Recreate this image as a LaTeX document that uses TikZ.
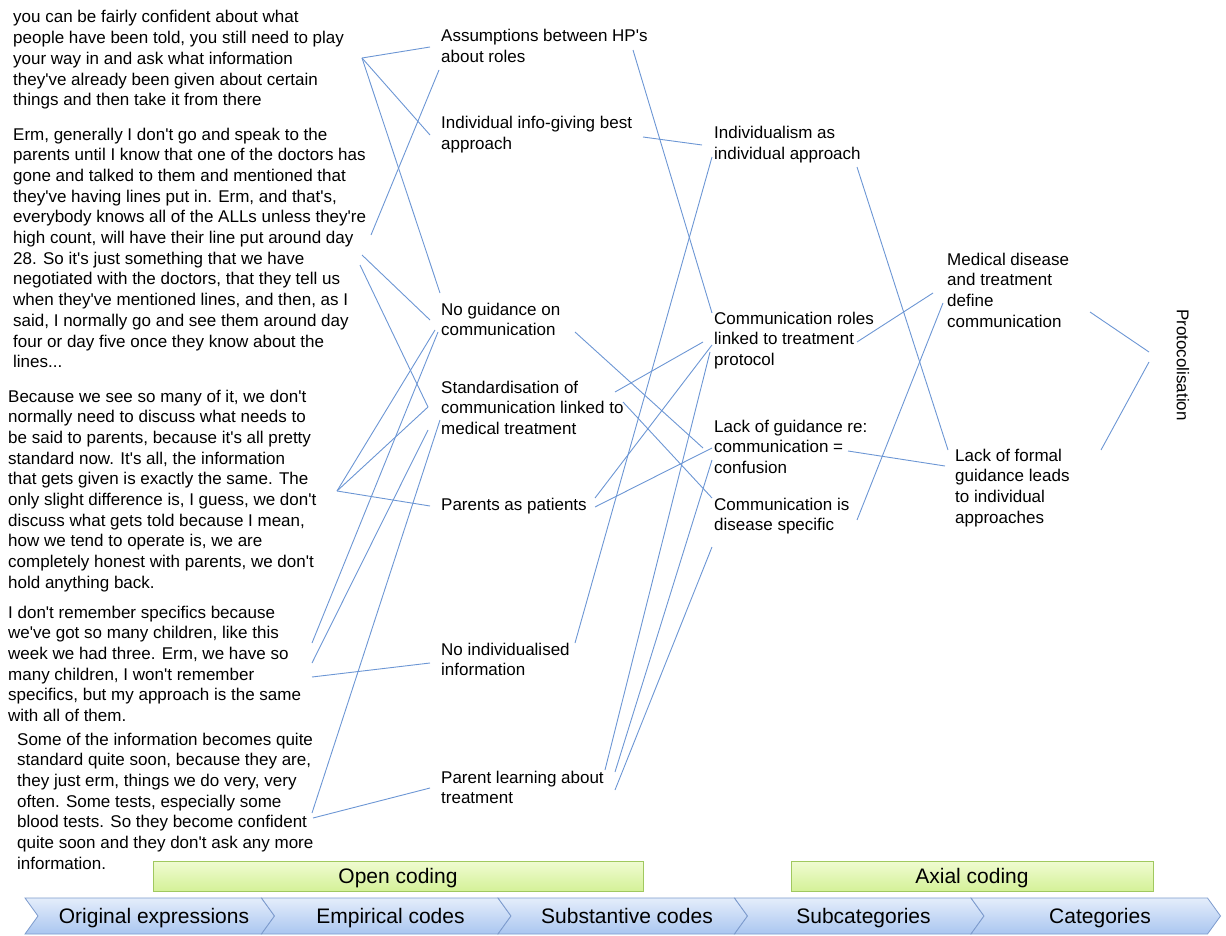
\documentclass[tikz,border=0pt]{standalone}
\usepackage{fontspec}
\setmainfont{Liberation Sans}[Ligatures=TeXOff]
\usepackage{tikz}
\usetikzlibrary{positioning,calc}
\definecolor{linkblue}{RGB}{108,150,212}
\definecolor{stagetop}{RGB}{228,237,251}
\definecolor{stagebot}{RGB}{170,198,240}
\definecolor{stageedge}{RGB}{125,155,205}
\definecolor{phasetop}{RGB}{240,251,210}
\definecolor{phasebot}{RGB}{212,241,152}
\definecolor{phaseedge}{RGB}{160,200,95}

\begin{document}
\begin{tikzpicture}[x=1pt,y=-1pt,
    txt/.style={anchor=base west,align=left,inner sep=0pt,font=\fontsize{17}{20.7}\selectfont},
    link/.style={draw=linkblue,line width=0.9pt},
    stagebox/.style={draw=stageedge,top color=stagetop,bottom color=stagebot,line width=0.8pt},
    stagelab/.style={anchor=base,inner sep=0pt,font=\fontsize{21}{24}\selectfont},
    phase/.style={draw=phaseedge,top color=phasetop,bottom color=phasebot,line width=0.8pt,
        minimum height=30pt,inner sep=0pt,text height=15pt,text depth=0pt,font=\fontsize{21}{24}\selectfont}]
    \useasboundingbox (0,0) rectangle (1226,936);

    % original expressions (placed at the baseline of the last line)
    \node[txt] (q1) at (13,105.8) {you can be fairly confident about what\\people have been told, you still need to play\\your way in and ask what information\\they've already been given about certain\\things and then take it from there};
    \node[txt] (q2) at (13,367.7) {Erm, generally I don't go and speak to the\\parents until I know that one of the doctors has\\gone and talked to them and mentioned that\\they've having lines put in.  Erm, and that's,\\everybody knows all of the ALLs unless they're\\high count, will have their line put around day\\28. So it's just something that we have\\negotiated with the doctors, that they tell us\\when they've mentioned lines, and then, as I\\said, I normally go and see them around day\\four or day five once they know about the\\lines...};
    \node[txt] (q3) at (8,588.3) {Because we see so many of it, we don't\\normally need to discuss what needs to\\be said to parents, because it's all pretty\\standard now.  It's all, the information\\that gets given is exactly the same.  The\\only slight difference is, I guess, we don't\\discuss what gets told because I mean,\\how we tend to operate is, we are\\completely honest with parents, we don't\\hold anything back.};
    \node[txt] (q4) at (8,721.5) {I don't remember specifics because\\we've got so many children, like this\\week we had three. Erm, we have so\\many children, I won't remember\\specifics, but my approach is the same\\with all of them.};
    \node[txt] (q5) at (17,869.2) {Some of the information becomes quite\\standard quite soon, because they are,\\they just erm, things we do very, very\\often.  Some tests, especially some\\blood tests. So they become confident\\quite soon and they don't ask any more\\information.};

    % empirical codes
    \node[txt] (e1) at (441,62.7) {Assumptions between HP's\\about roles};
    \node[txt] (e2) at (441,149.7) {Individual info-giving best\\approach};
    \node[txt] (e3) at (441,335.7) {No guidance on\\communication};
    \node[txt] (e4) at (441,434.4) {Standardisation of\\communication linked to\\medical treatment};
    \node[txt] (e5) at (441,510) {Parents as patients};
    \node[txt] (e6) at (441,675.7) {No individualised\\information};
    \node[txt] (e7) at (441,803.7) {Parent learning about\\treatment};

    % substantive codes
    \node[txt] (s1) at (714,159.7) {Individualism as\\individual approach};
    \node[txt] (s2) at (714,365.4) {Communication roles\\linked to treatment\\protocol};
    \node[txt] (s3) at (714,473.4) {Lack of guidance re:\\communication =\\confusion};
    \node[txt] (s4) at (714,530.7) {Communication is\\disease specific};

    % subcategories and category
    \node[txt] (sub1) at (947,327.1) {Medical disease\\and treatment\\define\\communication};
    \node[txt] (sub2) at (955,523.1) {Lack of formal\\guidance leads\\to individual\\approaches};
    \node[rotate=-90,inner sep=0pt,font=\fontsize{17}{20.7}\selectfont] (cat) at (1183,365) {Protocolisation};

    % line ends
    \foreach \n/\p in {q1r/{362,58},q2a/{371,235},q2b/{362,255},q2c/{360,265},q3r/{337,491},
        q4a/{312,643},q4b/{312,663},q4c/{312,677},q5a/{312,813},q5b/{313,818},
        e1a/{430,47},e1b/{439,70},e2a/{430,135},e3a/{440,293},e3b/{430,320},e3c/{435,330},
        e3d/{438,332},e4a/{428,407},e4b/{440,420},e4c/{428,430},e5a/{430,506},e6a/{430,663},e7a/{430,788},
        e1r/{633,50},e2r/{643,137},e3r/{575,332},e4r/{615,392},e4s/{623,402},e5r/{595,498},
        e5s/{595,507},e6r/{575,643},e7r/{605,770},e7s/{615,772},e7t/{615,790},
        s1a/{702,145},s1b/{712,157},s2a/{712,313},s2b/{703,342},s2c/{712,345},s2d/{710,352},
        s3a/{703,448},s3b/{712,448},s3c/{712,460},s4a/{712,498},s4b/{712,547},
        s1r/{857,167},s2r/{857,342},s3r/{848,451},s4r/{857,520},
        m1/{933,293},m2/{943,303},f1/{948,450},f2/{945,466},
        mr/{1090,312},fr/{1101,450},p1/{1149,352},p2/{1149,362}}
        \coordinate (\n) at (\p);

    \foreach \a/\b in {q1r/e1a,q1r/e2a,q1r/e3a,q2a/e1b,q2b/e3b,q2c/e4a,q3r/e3c,q3r/e4a,q3r/e5a,
        q4a/e3d,q4b/e4c,q4c/e6a,q5a/e4b,q5b/e7a,
        e1r/s2a,e2r/s1a,e6r/s1b,e3r/s3a,e4r/s2b,e4s/s4a,e5r/s2c,e5s/s3b,e7r/s2d,e7s/s3c,e7t/s4b,
        s1r/f1,s2r/m1,s3r/f2,s4r/m2,mr/p1,fr/p2}
        \draw[link] (\a) -- (\b);

    % coding phases
    \node[phase,minimum width=490pt] (open) at (398,876) {Open coding};
    \node[phase,minimum width=362pt] (axial) at (972,876) {Axial coding};

    % stages
    \foreach \lab [count=\i from 0] in {Original expressions,Empirical codes,Substantive codes,Subcategories,Categories}{
        \pgfmathsetmacro\l{25+236.5*\i}
        \draw[stagebox] (\l,898) -- ++(236.5,0) -- ++(13,18) -- ++(-13,18) -- ++(-236.5,0) -- ++(13,-18) -- cycle;
        \node[stagelab] (stage\i) at (\l+129,923.5) {\lab};
    }
\end{tikzpicture}
\end{document}
